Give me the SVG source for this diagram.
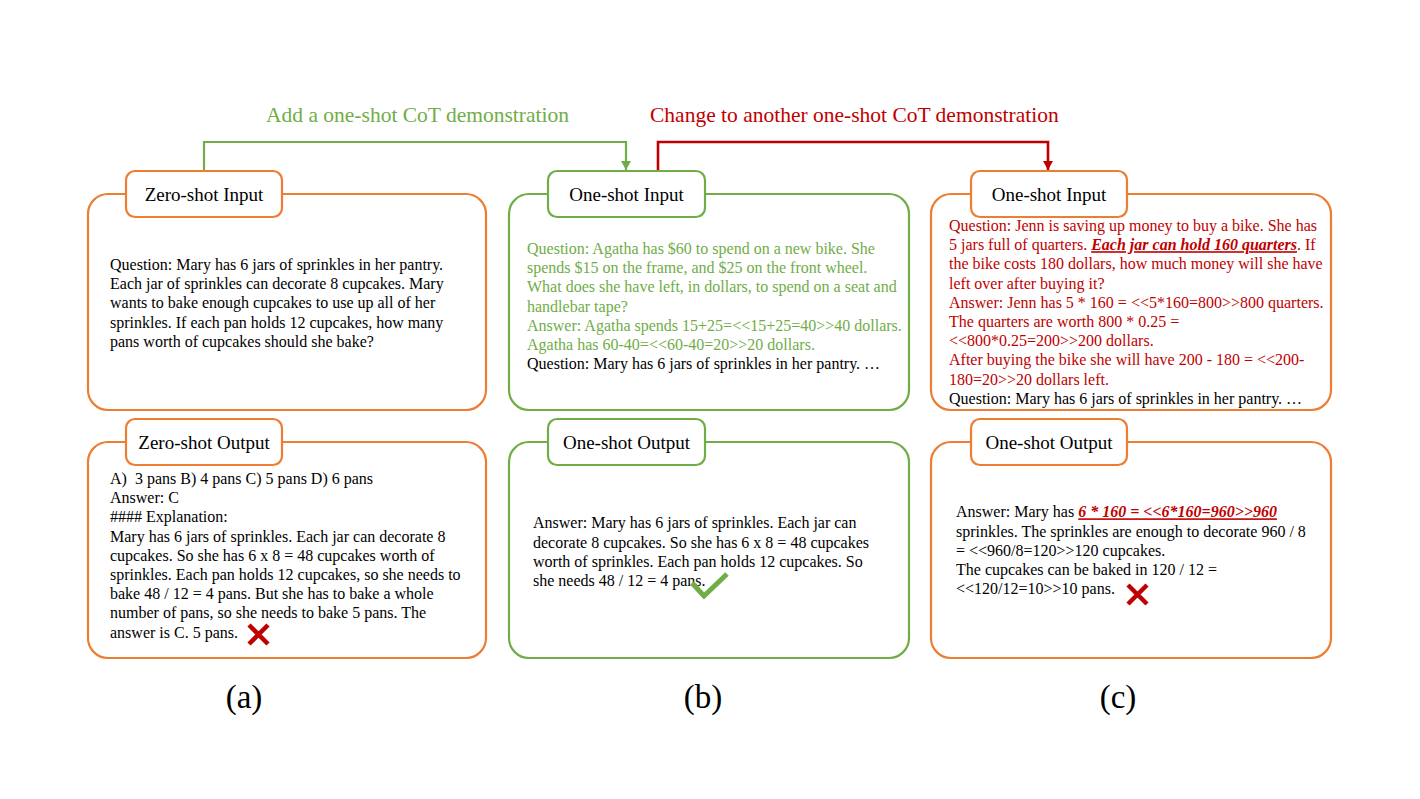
<svg xmlns="http://www.w3.org/2000/svg" width="1420" height="799" viewBox="0 0 1420 799">
<style>
.t{font-family:"Liberation Serif","Times New Roman",serif;font-size:16px;fill:#000}
.g{fill:#70AD47}
.r{fill:#C00000}
.bo{fill:#fff;stroke:#ED7D31;stroke-width:2.2}
.bg{fill:#fff;stroke:#70AD47;stroke-width:2.2}
.lbl{font-size:19px;text-anchor:middle}
.ttl{font-size:21.5px}
.sub{font-size:33px;text-anchor:middle}
.em{font-weight:bold;font-style:italic;text-decoration:underline}
.x{stroke:#C00000;stroke-width:4.5;fill:none}
</style>
<defs>
<marker id="ag" markerUnits="userSpaceOnUse" markerWidth="10" markerHeight="10" refX="9" refY="5" orient="auto"><path d="M0,0 L9,5 L0,10 Z" fill="#70AD47"/></marker>
<marker id="ar" markerUnits="userSpaceOnUse" markerWidth="10" markerHeight="10" refX="9" refY="5" orient="auto"><path d="M0,0 L9,5 L0,10 Z" fill="#C00000"/></marker>
</defs>
<rect width="1420" height="799" fill="#fff"/>

<g id="connectors">
<path d="M204,171 V142 H626 V170" fill="none" stroke="#70AD47" stroke-width="2.2" marker-end="url(#ag)"/>
<path d="M658,171 V142 H1048 V170" fill="none" stroke="#C00000" stroke-width="2.6" marker-end="url(#ar)"/>
<text class="t ttl g" x="266" y="122">Add a one-shot CoT demonstration</text>
<text class="t ttl r" x="650" y="122">Change to another one-shot CoT demonstration</text>
</g>

<g id="zero-input">
<rect class="bo" x="88" y="194" width="398" height="216" rx="20"/>
<rect class="bo" x="126" y="171" width="156" height="46" rx="9"/>
<text class="t lbl" x="204" y="201">Zero-shot Input</text>
<text class="t" x="110" y="270">Question: Mary has 6 jars of sprinkles in her pantry.</text>
<text class="t" x="110" y="289.2">Each jar of sprinkles can decorate 8 cupcakes. Mary</text>
<text class="t" x="110" y="308.4">wants to bake enough cupcakes to use up all of her</text>
<text class="t" x="110" y="327.6">sprinkles. If each pan holds 12 cupcakes, how many</text>
<text class="t" x="110" y="346.8">pans worth of cupcakes should she bake?</text>
</g>

<g id="zero-output">
<rect class="bo" x="88" y="442" width="398" height="216" rx="20"/>
<rect class="bo" x="126" y="419" width="156" height="46" rx="9"/>
<text class="t lbl" x="204" y="449">Zero-shot Output</text>
<text class="t" x="110" y="484" xml:space="preserve">A)  3 pans B) 4 pans C) 5 pans D) 6 pans</text>
<text class="t" x="110" y="503.2">Answer: C</text>
<text class="t" x="110" y="522.4">#### Explanation:</text>
<text class="t" x="110" y="541.6">Mary has 6 jars of sprinkles. Each jar can decorate 8</text>
<text class="t" x="110" y="560.8">cupcakes. So she has 6 x 8 = 48 cupcakes worth of</text>
<text class="t" x="110" y="580">sprinkles. Each pan holds 12 cupcakes, so she needs to</text>
<text class="t" x="110" y="599.2">bake 48 / 12 = 4 pans. But she has to bake a whole</text>
<text class="t" x="110" y="618.4">number of pans, so she needs to bake 5 pans. The</text>
<text class="t" x="110" y="637.6">answer is C. 5 pans.</text>
<path class="x" d="M249,625 L268,644 M268,625 L249,644"/>
</g>

<g id="one-input-b">
<rect class="bg" x="509" y="194" width="400" height="216" rx="20"/>
<rect class="bg" x="548" y="171" width="157" height="46" rx="9"/>
<text class="t lbl" x="626.5" y="201">One-shot Input</text>
<text class="t g" x="527" y="254">Question: Agatha has $60 to spend on a new bike. She</text>
<text class="t g" x="527" y="273.2">spends $15 on the frame, and $25 on the front wheel.</text>
<text class="t g" x="527" y="292.4">What does she have left, in dollars, to spend on a seat and</text>
<text class="t g" x="527" y="311.6">handlebar tape?</text>
<text class="t g" x="527" y="330.8">Answer: Agatha spends 15+25=&lt;&lt;15+25=40&gt;&gt;40 dollars.</text>
<text class="t g" x="527" y="350">Agatha has 60-40=&lt;&lt;60-40=20&gt;&gt;20 dollars.</text>
<text class="t" x="527" y="369.2">Question: Mary has 6 jars of sprinkles in her pantry. …</text>
</g>

<g id="one-output-b">
<rect class="bg" x="509" y="442" width="400" height="216" rx="20"/>
<rect class="bg" x="548" y="419" width="157" height="46" rx="9"/>
<text class="t lbl" x="626.5" y="449">One-shot Output</text>
<text class="t" x="533" y="528.3">Answer: Mary has 6 jars of sprinkles. Each jar can</text>
<text class="t" x="533" y="547.5">decorate 8 cupcakes. So she has 6 x 8 = 48 cupcakes</text>
<text class="t" x="533" y="566.7">worth of sprinkles. Each pan holds 12 cupcakes. So</text>
<text class="t" x="533" y="585.9">she needs 48 / 12 = 4 pans.</text>
<path d="M692,583 L704,596 L727,574" fill="none" stroke="#70AD47" stroke-width="5"/>
</g>

<g id="one-input-c">
<rect class="bo" x="931" y="194" width="400" height="216" rx="20"/>
<rect class="bo" x="971" y="171" width="156" height="46" rx="9"/>
<text class="t lbl" x="1049" y="201">One-shot Input</text>
<text class="t r" x="949" y="231">Question: Jenn is saving up money to buy a bike. She has</text>
<text class="t r" x="949" y="250.2">5 jars full of quarters. <tspan class="em">Each jar can hold 160 quarters</tspan>. If</text>
<text class="t r" x="949" y="269.4">the bike costs 180 dollars, how much money will she have</text>
<text class="t r" x="949" y="288.6">left over after buying it?</text>
<text class="t r" x="949" y="307.8">Answer: Jenn has 5 * 160 = &lt;&lt;5*160=800&gt;&gt;800 quarters.</text>
<text class="t r" x="949" y="327">The quarters are worth 800 * 0.25 =</text>
<text class="t r" x="949" y="346.2">&lt;&lt;800*0.25=200&gt;&gt;200 dollars.</text>
<text class="t r" x="949" y="365.4">After buying the bike she will have 200 - 180 = &lt;&lt;200-</text>
<text class="t r" x="949" y="384.6">180=20&gt;&gt;20 dollars left.</text>
<text class="t" x="949" y="403.8">Question: Mary has 6 jars of sprinkles in her pantry. …</text>
</g>

<g id="one-output-c">
<rect class="bo" x="931" y="442" width="400" height="216" rx="20"/>
<rect class="bo" x="971" y="419" width="156" height="46" rx="9"/>
<text class="t lbl" x="1049" y="449">One-shot Output</text>
<text class="t" x="956" y="517.3">Answer: Mary has <tspan class="em r">6 * 160 = &lt;&lt;6*160=960&gt;&gt;960</tspan></text>
<text class="t" x="956" y="536.5">sprinkles. The sprinkles are enough to decorate 960 / 8</text>
<text class="t" x="956" y="555.7">= &lt;&lt;960/8=120&gt;&gt;120 cupcakes.</text>
<text class="t" x="956" y="574.9">The cupcakes can be baked in 120 / 12 =</text>
<text class="t" x="956" y="594.1">&lt;&lt;120/12=10&gt;&gt;10 pans.</text>
<path class="x" d="M1128,585 L1147,604 M1147,585 L1128,604"/>
</g>

<g id="captions">
<text class="t sub" x="244" y="708">(a)</text>
<text class="t sub" x="703" y="708">(b)</text>
<text class="t sub" x="1118" y="708">(c)</text>
</g>
</svg>
